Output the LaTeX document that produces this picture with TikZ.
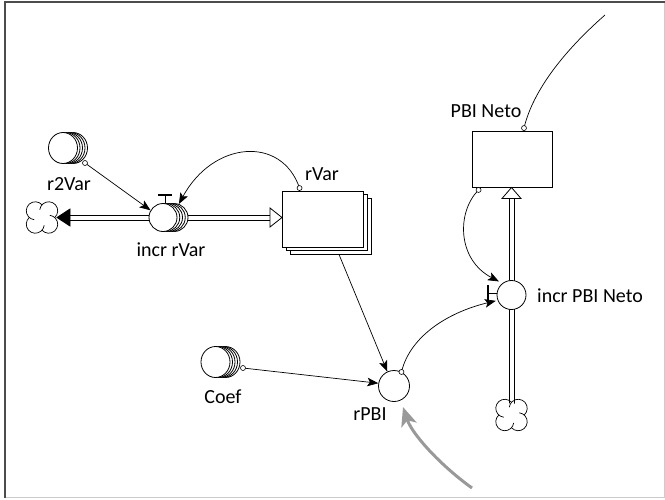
\documentclass[tikz,border=0pt]{standalone}
\usepackage{fontspec}
\setmainfont{Carlito}
\usetikzlibrary{arrows.meta,shapes.geometric,calc}

\tikzset{
  conv/.style={ellipse,draw,fill=white,inner sep=0pt,minimum width=29pt,minimum height=31pt,line width=0.8pt},
  aux/.style={circle,draw,fill=white,inner sep=0pt,minimum size=#1,line width=0.8pt},
  stockbox/.style={rectangle,draw,fill=white,inner sep=0pt,minimum width=#1,minimum height=56pt,line width=0.9pt},
  link/.style={line width=0.7pt,-{Stealth[length=11pt,width=8.5pt,inset=2.5pt]}},
  plainlink/.style={line width=0.7pt},
  odot/.style={circle,draw,fill=white,inner sep=0pt,minimum size=5pt,line width=0.6pt},
  lbl/.style={font=\fontsize{20pt}{24pt}\selectfont,inner sep=0pt,anchor=base},
  pipeline/.style={draw=black,line width=0.8pt},
  hollowtip/.style={draw,line width=0.8pt,fill=white,line join=miter},
  solidtip/.style={draw,line width=0.8pt,fill=black,line join=miter},
  handle/.style={line width=0.8pt},
  handlebar/.style={line width=1.8pt},
  feed/.style={line width=3pt,draw=black!40,-{Stealth[length=19pt,width=16pt,inset=5pt]}},
  cloudpic/.pic={
    \fill[white] (0,0) circle[radius=12pt];
    \foreach \t in {45,135,225,315}
      \draw[line width=0.7pt] (\t:9.5pt) ++(\t-94:9pt)
        arc[start angle=\t-94,end angle=\t+128,radius=9pt];
  }
}

\begin{document}
\begin{tikzpicture}[x=1pt,y=1pt]
\useasboundingbox (0,0) rectangle (665,-499);

% frame
\draw[line width=1pt,black!20] (5,-497.5) -- (664,-497.5) -- (664,-2);
\draw[line width=1.2pt,black!70] (5,-497.5) -- (5,-2) -- (665,-2);

% positions of the flow elements
\coordinate (v1pos) at (163,-217.5);
\coordinate (v2pos) at (511.5,-295);
\coordinate (cloudL) at (42,-217.5);
\coordinate (cloudB) at (511.5,-415);
\coordinate (tipL) at (57,-217.5);
\coordinate (tipR) at (282,-217.5);
\coordinate (tipU) at (511.5,-187.5);

% pipes: two parallel strokes each, drawn first so valves and clouds sit on top
\foreach \s in {-2.5,2.5} {
  \draw[pipeline] ([yshift=\s pt]v1pos) -- ([xshift=13pt,yshift=\s pt]tipL);
  \draw[pipeline] ([yshift=\s pt]v1pos) -- ([xshift=-11pt,yshift=\s pt]tipR);
  \draw[pipeline] ([xshift=\s pt]cloudB) -- ([xshift=\s pt,yshift=-10pt]tipU);
}

% converters (stacked = arrayed)
\foreach \d [count=\i] in {10,7.5,5,2.5}
  \node[conv] (r2VarS\i) at (63+\d,-148) {};
\node[conv] (r2Var) at (63,-148) {};
\foreach \d [count=\i] in {10,7.5,5,2.5}
  \node[conv] (coefS\i) at (215.5+\d,-362) {};
\node[conv] (coef) at (215.5,-362) {};

% valve of the rVar flow
\foreach \d [count=\i] in {11,8.25,5.5,2.75}
  \node[aux=28pt] (v1S\i) at ([xshift=\d pt]v1pos) {};
\node[aux=28pt] (v1) at (v1pos) {};
\draw[handle] ([xshift=2pt]v1.north) -- ++(0,7);
\draw[handlebar] ([xshift=-5pt,yshift=8.5pt]v1.north) -- ++(14,0);

% stocks
\node[stockbox=81pt] (rVarS2) at (330.5,-226) {};
\node[stockbox=81pt] (rVarS1) at (326.5,-222.5) {};
\node[stockbox=81pt] (rVar) at (322.5,-219) {};
\node[stockbox=80pt] (pbi) at (512,-159) {};

% auxiliary and valve of PBI Neto
\node[aux=31pt] (rPBI) at (394,-386) {};
\node[aux=29pt] (v2) at (v2pos) {};
\draw[handle] ([yshift=2pt]v2.west) -- ++(-8,0);
\draw[handlebar] ([xshift=-8.5pt,yshift=10pt]v2.west) -- ++(0,-16);

% clouds
\pic at (cloudL) {cloudpic};
\pic at (cloudB) {cloudpic};

% pipe heads
\draw[solidtip] (tipL) -- ++(13,8.5) -- ++(0,-17) -- cycle;
\draw[hollowtip] (tipR) -- ++(-12,9.5) -- ++(0,-19) -- cycle;
\draw[hollowtip] (tipU) -- ++(9.5,-11) -- ++(-19,0) -- cycle;

% connector origins
\coordinate (r2d) at ($(r2Var)+(22,-15)$);
\coordinate (rvd) at ([xshift=18pt,yshift=2.5pt]rVar.north west);
\coordinate (cfd) at ($(coef)+(27.5,-6)$);
\coordinate (rpd) at (rPBI.62);
\coordinate (pbd) at ([xshift=7pt,yshift=-2.5pt]pbi.south west);
\coordinate (ptd) at ([xshift=12pt,yshift=2.5pt]pbi.north);
\coordinate (pbiEnd) at (605,-15);
\coordinate (feedStart) at (472,-488);
\coordinate (feedEnd) at ([shift={(9,-21)}]rPBI.center);

% connectors
\draw[link] (r2d) -- (v1.150);
\draw[link] (rvd) .. controls +(-18,53) and +(34,63) .. (v1S1.70);
\draw[link] ([xshift=8.5pt]rVarS2.south) -- (rPBI.115);
\draw[link] (cfd) -- (rPBI.170);
\draw[link] (rpd) .. controls +(9,37) and +(-46,-11) .. ([xshift=-2pt]v2.203);
\draw[link] (pbd) .. controls +(-22,-22) and +(-42,22) .. ([xshift=-2pt,yshift=3pt]v2.135);
\draw[plainlink] (ptd) .. controls +(9,38) and +(-40,-35) .. (pbiEnd);
\draw[feed] (feedStart) .. controls +(-32,23) and +(9,-27) .. (feedEnd);

\node[odot] (r2dN) at (r2d) {};
\node[odot] (rvdN) at (rvd) {};
\node[odot] (cfdN) at (cfd) {};
\node[odot] (rpdN) at (rpd) {};
\node[odot] (pbdN) at (pbd) {};
\node[odot] (ptdN) at (ptd) {};

% labels
\node[lbl] (r2VarL) at (69,-190) {r2Var};
\node[lbl] (v1L) at (171,-256) {incr rVar};
\node[lbl] (rVarL) at (322,-180) {rVar};
\node[lbl] (pbiL) at (486,-117) {PBI Neto};
\node[lbl,anchor=base west] (v2L) at (537,-302) {incr PBI Neto};
\node[lbl] (coefL) at (223,-403) {Coef};
\node[lbl] (rPBIL) at (370,-420) {rPBI};
\end{tikzpicture}
\end{document}
